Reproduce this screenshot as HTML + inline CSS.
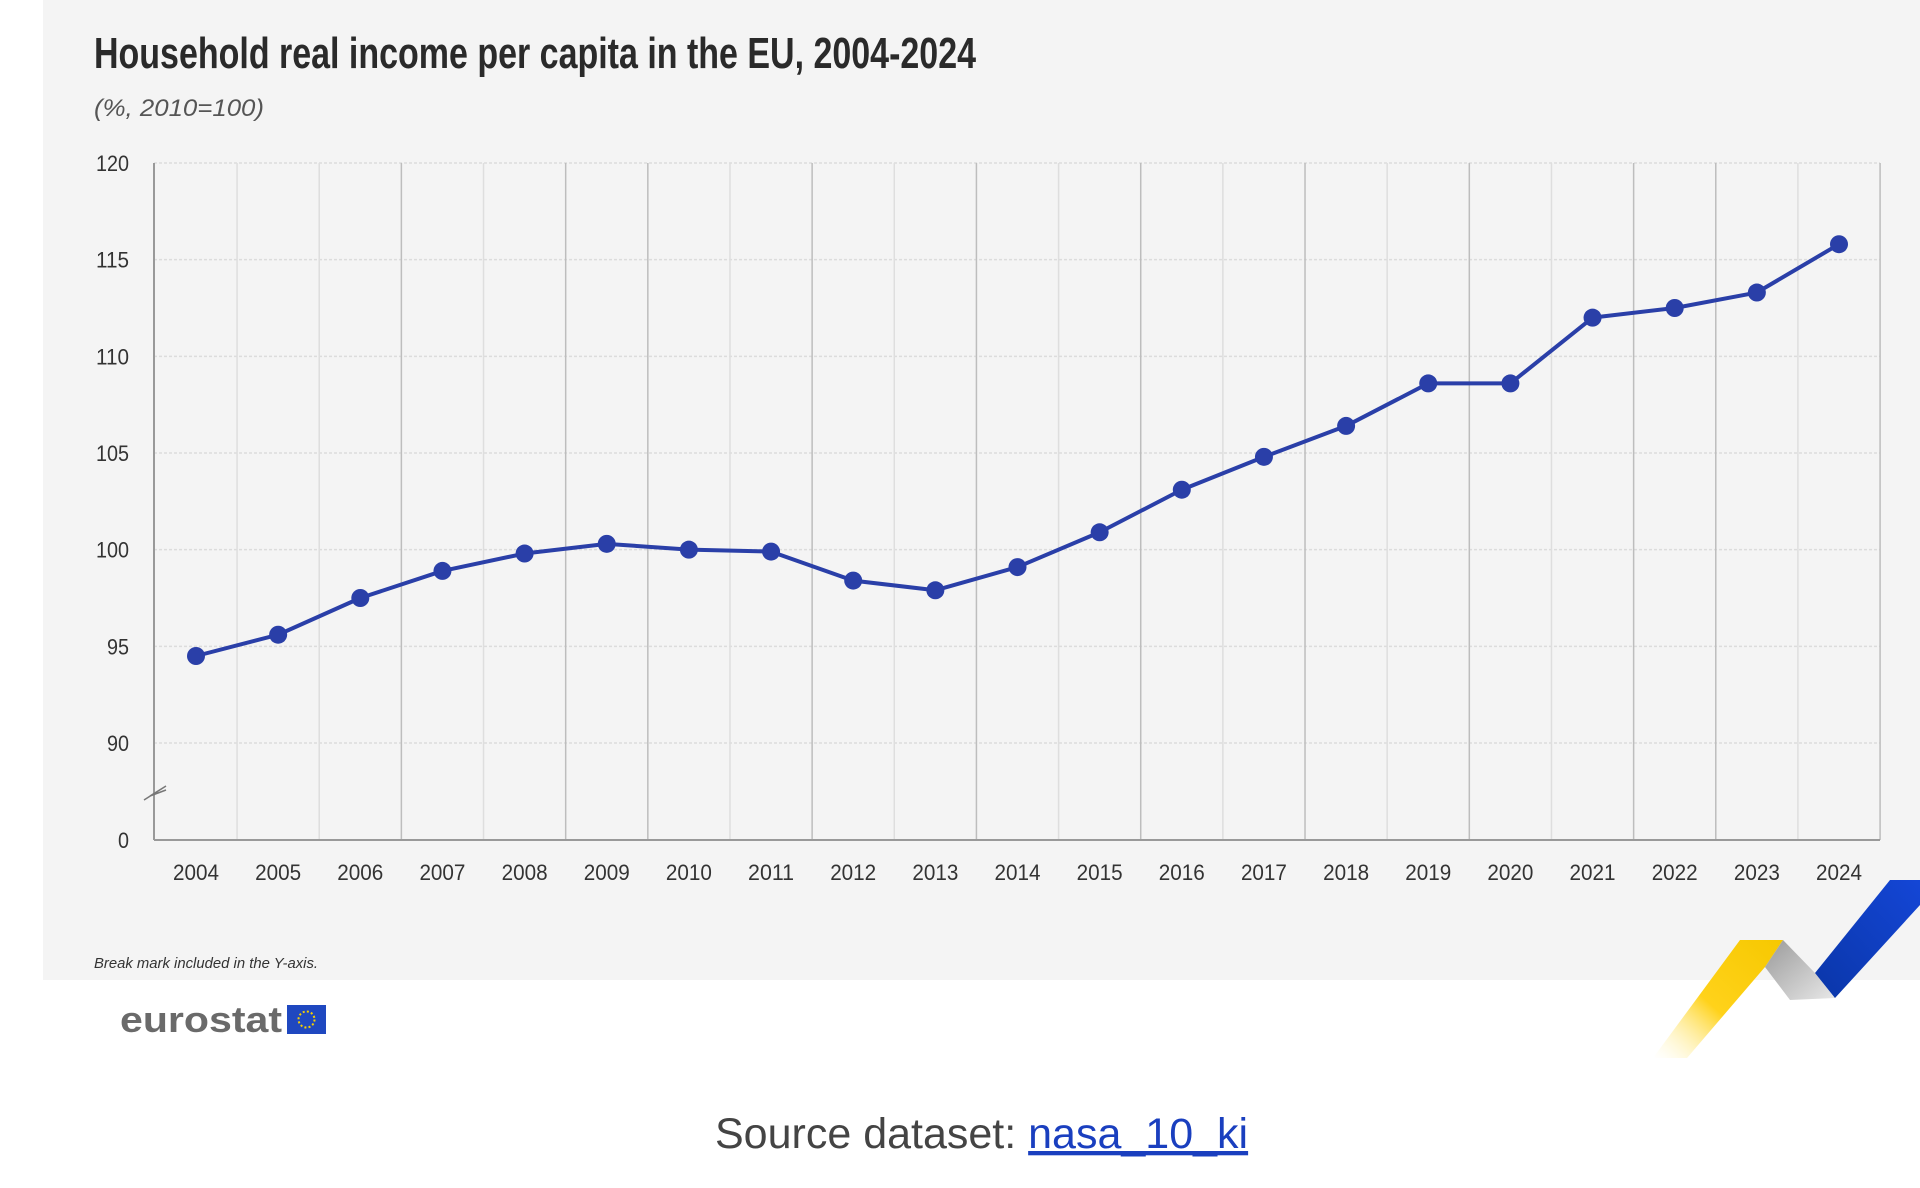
<!DOCTYPE html>
<html><head><meta charset="utf-8">
<style>
html,body{margin:0;padding:0;background:#fff;}
body{width:1920px;height:1188px;position:relative;overflow:hidden;font-family:"Liberation Sans",sans-serif;}
#panel{position:absolute;left:43px;top:0;width:1877px;height:980px;background:#f4f4f4;}
svg{position:absolute;left:0;top:0;}
.cond{font-family:"Liberation Sans Narrow","Liberation Sans",sans-serif;}
</style></head>
<body>
<div id="panel"></div>
<svg id="chart" width="1920" height="1188">
  <defs>
    <linearGradient id="yg" x1="1" y1="0" x2="0" y2="1">
      <stop offset="0" stop-color="#f6c800"/><stop offset="0.55" stop-color="#ffd21a"/><stop offset="1" stop-color="#fff6c0" stop-opacity="0"/>
    </linearGradient>
    <linearGradient id="gg" x1="0" y1="0" x2="1" y2="1">
      <stop offset="0" stop-color="#9a9a9a"/><stop offset="1" stop-color="#e8e8e8"/>
    </linearGradient>
    <linearGradient id="bg" x1="1" y1="0" x2="0" y2="1">
      <stop offset="0" stop-color="#1446d6"/><stop offset="1" stop-color="#0a36a8"/>
    </linearGradient>
  </defs>
  <text x="94" y="68" font-size="44" font-weight="bold" fill="#2a2a2a" class="cond" textLength="882" lengthAdjust="spacingAndGlyphs">Household real income per capita in the EU, 2004-2024</text>
  <text x="94" y="116" font-size="24" font-style="italic" fill="#555" class="cond" textLength="170" lengthAdjust="spacingAndGlyphs">(%, 2010=100)</text>
  <g id="grid"></g>
  <g id="axes"></g>
  <g id="series"></g>
  <text x="94" y="968" font-size="15" font-style="italic" fill="#333" class="cond" textLength="224" lengthAdjust="spacingAndGlyphs">Break mark included in the Y-axis.</text>
  <text x="120" y="1032" font-size="36" font-weight="bold" fill="#6a6a6a" textLength="162" lengthAdjust="spacingAndGlyphs">eurostat</text>
  <rect x="287" y="1005" width="39" height="29" fill="#1f48c0"/>
  <circle cx="306.5" cy="1019.5" r="8" fill="none" stroke="#f6d000" stroke-width="2" stroke-dasharray="2 2.2"/>
  <polygon points="1740,940 1783,940 1765,967 1687,1058 1653,1058" fill="url(#yg)"/>
  <polygon points="1783,940 1765,967 1790,1000 1835,998 1815,973" fill="url(#gg)"/>
  <polygon points="1890,880 1920,880 1920,905 1835,998 1815,973" fill="url(#bg)"/>
  <text x="715" y="1148" font-size="43" fill="#444">Source dataset: <tspan fill="#1a3fbf" text-decoration="underline">nasa_10_ki</tspan></text>
</svg>
<script>
const years = ["2004","2005","2006","2007","2008","2009","2010","2011","2012","2013","2014","2015","2016","2017","2018","2019","2020","2021","2022","2023","2024"];
const values = [94.5,95.6,97.5,98.9,99.8,100.3,100.0,99.9,98.4,97.9,99.1,100.9,103.1,104.8,106.4,108.6,108.6,112.0,112.5,113.3,115.8];
const yTicks = [90,95,100,105,110,115,120];
const yTickLabels = ["90","95","100","105","110","115","120"];

const NS = "http://www.w3.org/2000/svg";
const left = 154, right = 1880, zeroY = 840, y90 = 743, y120 = 163;
function xPos(i){ return 196 + i*(1839-196)/(years.length-1); }
function yPos(v){ return v <= 0 ? zeroY : y90 - (v-90)*(y90-y120)/30; }
function mk(tag, attrs, parent){ const e=document.createElementNS(NS,tag); for(const k in attrs) e.setAttribute(k,attrs[k]); parent.appendChild(e); return e; }

const grid=document.getElementById('grid'), axes=document.getElementById('axes'), series=document.getElementById('series');
const step=(1839-196)/(years.length-1);
yTicks.forEach((t,i)=>{
  const y=yPos(t);
  const l=mk('line',{x1:left,x2:right,y1:y,y2:y,stroke:'#dcdcdc','stroke-width':1.5,'stroke-dasharray':'3 2'},grid);
  
  
  const lbl=yTickLabels[i];
  const tx=mk('text',{x:129-lbl.length*11,y:y+8,'font-size':22,fill:'#333',textLength:lbl.length*11,lengthAdjust:'spacingAndGlyphs'},axes);
  tx.textContent=lbl;
  
  
});
const z=mk('text',{x:118,y:zeroY+8,'font-size':22,fill:'#333',textLength:11,lengthAdjust:'spacingAndGlyphs'},axes);
z.textContent="0";


const dark=[2,4,5,7,9,11,13,15,17,18,20];
for(let i=0;i<years.length;i++){
  const x=xPos(i)+step/2;
  const l=mk('line',{x1:x,x2:x,y1:y120,y2:zeroY,stroke:dark.includes(i)?'#bdbdbd':'#dedede','stroke-width':1.5},grid);
  
  
  const tx=mk('text',{x:xPos(i)-23,y:880,'font-size':22,fill:'#333',textLength:46,lengthAdjust:'spacingAndGlyphs'},axes);
  tx.textContent=years[i];
  
  
}
const ax=mk('line',{x1:left,x2:left,y1:y120,y2:zeroY,stroke:'#999','stroke-width':2},axes);


const bx=mk('line',{x1:left,x2:right,y1:zeroY,y2:zeroY,stroke:'#999','stroke-width':2},axes);


const brk=mk('path',{d:'M144,800 L166,786 L150,796 L166,790',fill:'none',stroke:'#777','stroke-width':1.5},axes);


const pts=values.map((v,i)=>xPos(i)+','+yPos(v)).join(' ');
const pl=mk('polyline',{points:pts,fill:'none',stroke:'#2a3fa8','stroke-width':4,'stroke-linejoin':'round'},series);


values.forEach((v,i)=>{
  const c=mk('circle',{cx:xPos(i),cy:yPos(v),r:9,fill:'#2a3fa8'},series);
  
  
});
</script>
</body></html>
